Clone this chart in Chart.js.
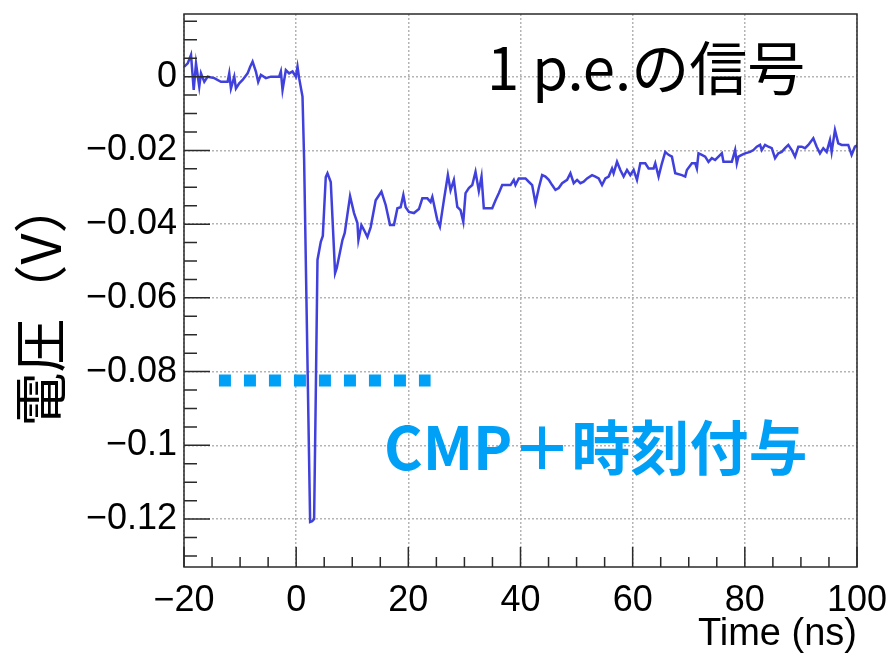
<!DOCTYPE html>
<html>
<head>
<meta charset="utf-8">
<script src="https://cdn.jsdelivr.net/npm/chart.js@4.4.0/dist/chart.umd.min.js"></script>
<style>
  html, body { margin: 0; padding: 0; background: #ffffff; }
  #wrap { width: 888px; height: 661px; }
</style>
</head>
<body>
<div id="wrap"><canvas id="c" width="888" height="661"></canvas></div>
<script>
// Waveform of a single photo-electron pulse (time in ns, voltage in V)
const timeNs = [
  -19.95, -19.34, -18.75, -18.27, -17.86, -17.28, -16.97, -16.38, -15.78, -14.6,
  -13.41, -12.22, -11.93, -11.63, -11.04, -10.74, -10.15, -9.55, -8.66, -8.2,
  -7.77, -7.18, -6.77, -6.29, -5.4, -4.51, -3.03, -2.73, -2.43, -1.84,
  -1.25, -0.65, -0.06, 0.24, 0.53, 1.13, 1.42, 2.49, 2.85, 3.2,
  3.5, 3.8, 4.39, 4.75, 5.28, 5.58, 6.17, 6.94, 7.24, 8.25,
  8.66, 9.61, 10.32, 10.92, 11.1, 11.64, 12.1, 12.7, 13.29, 14.18,
  15.2, 15.96, 16.73, 17.44, 18.05, 18.63, 19.11, 19.52, 20.11, 21.0,
  21.89, 22.5, 23.39, 23.97, 24.28, 25.17, 25.63, 26.34, 27.05, 27.53,
  28.12, 28.73, 29.31, 29.8, 30.2, 30.79, 31.4, 31.98, 32.57, 33.05,
  33.46, 34.96, 35.55, 36.13, 36.74, 38.22, 38.8, 39.1, 39.69, 40.89,
  41.47, 42.08, 42.67, 43.26, 43.86, 44.45, 45.04, 45.64, 46.23, 46.82,
  47.42, 48.31, 48.9, 49.49, 50.09, 50.68, 51.27, 51.87, 52.76, 53.35,
  53.94, 54.54, 55.13, 55.72, 56.32, 56.6, 57.21, 57.8, 58.39, 58.99,
  59.58, 60.17, 60.77, 61.36, 62.25, 62.84, 63.73, 64.03, 64.62, 65.22,
  65.81, 66.4, 67.0, 67.59, 68.78, 69.37, 69.67, 70.56, 71.15, 71.45,
  71.74, 72.34, 72.93, 73.52, 74.12, 74.71, 75.3, 75.9, 76.19, 76.79,
  77.68, 78.27, 78.57, 78.86, 79.46, 80.05, 80.94, 81.53, 82.13, 82.72,
  83.02, 83.61, 84.2, 84.8, 85.39, 85.98, 86.58, 87.17, 87.76, 88.36,
  88.95, 89.54, 90.14, 90.73, 91.32, 92.21, 92.81, 93.4, 93.99, 94.59,
  95.18, 95.48, 96.07, 96.66, 97.27, 98.44, 99.04, 99.63, 100.2
];
const voltV = [
  0.0027, 0.0036, 0.0059, -0.0036, 0.0036, -0.0027, 0.0009, -0.0014, 0, -0.0004,
  -0.0014, -0.0014, 0.0009, -0.0032, 0, -0.0032, -0.0018, -0.0009, 0.0009, 0.0027,
  0.0041, 0.0014, -0.0014, 0.0005, -0.0004, 0, 0, 0.0014, -0.0036, 0.0018,
  0.0009, 0.0014, 0, 0.0027, -0.0004, -0.0054, -0.0226, -0.1208, -0.1206, -0.12,
  -0.0858, -0.0497, -0.0448, -0.0432, -0.0272, -0.0262, -0.0286, -0.0533, -0.0519, -0.0443,
  -0.0424, -0.0324, -0.037, -0.0397, -0.0443, -0.0403, -0.0416, -0.0435, -0.0408, -0.0335,
  -0.0312, -0.0348, -0.0402, -0.0402, -0.0357, -0.0354, -0.0321, -0.0354, -0.0367, -0.037,
  -0.0359, -0.033, -0.033, -0.034, -0.0326, -0.0389, -0.0407, -0.0335, -0.0267, -0.0308,
  -0.028, -0.0353, -0.0362, -0.0394, -0.0316, -0.0302, -0.0294, -0.0258, -0.031, -0.0271,
  -0.0357, -0.0357, -0.0335, -0.0316, -0.0294, -0.0294, -0.028, -0.0294, -0.0276, -0.0276,
  -0.0285, -0.0294, -0.0343, -0.0302, -0.0267, -0.0271, -0.028, -0.0294, -0.0307, -0.0302,
  -0.0289, -0.028, -0.0262, -0.0289, -0.028, -0.0289, -0.0285, -0.0276, -0.0267, -0.0271,
  -0.0276, -0.0294, -0.0276, -0.0271, -0.0249, -0.0262, -0.0231, -0.0253, -0.0271, -0.0253,
  -0.0267, -0.0253, -0.028, -0.0235, -0.0235, -0.0249, -0.0249, -0.0235, -0.0271, -0.0235,
  -0.0204, -0.0212, -0.0217, -0.0262, -0.0267, -0.0271, -0.0253, -0.0235, -0.0235, -0.0249,
  -0.0208, -0.0212, -0.0217, -0.0231, -0.0221, -0.0226, -0.0217, -0.0208, -0.0231, -0.0231,
  -0.0231, -0.0199, -0.0235, -0.0217, -0.0212, -0.0208, -0.0204, -0.0199, -0.019, -0.0185,
  -0.0199, -0.0185, -0.019, -0.0194, -0.0221, -0.0208, -0.0204, -0.0194, -0.0185, -0.0199,
  -0.0217, -0.019, -0.019, -0.0194, -0.0185, -0.0167, -0.019, -0.0208, -0.0194, -0.0204,
  -0.0172, -0.0204, -0.0145, -0.0181, -0.0185, -0.0185, -0.0212, -0.019, -0.0185
];

// Discriminator level marked across the pulse
const thresholdTime = [-13.77, 23.97];
const thresholdVolt = [-0.0824, -0.0824];

// Axis ranges and labelled ticks
const xRange = [-20, 100];
const yRange = [-0.133, 0.017];
const xTicks = [-20, 0, 20, 40, 60, 80, 100];
const yTicks = [0, -0.02, -0.04, -0.06, -0.08, -0.1, -0.12];

const titleText = '1 p.e.の信号';
const noteText = 'CMP＋時刻付与';
const yTitle = '電圧（V）';
const xTitle = 'Time (ns)';

const MINUS = '\u2212';
function fmt(v) {
  if (Math.abs(v) < 1e-9) return '0';
  const s = String(parseFloat(Math.abs(v).toFixed(4)));
  return (v < 0 ? MINUS : '') + s;
}

const tickFont = { family: '"Liberation Sans", Arial, sans-serif', size: 36 };
const GRID = '#b4b4b4';
const AXIS = '#2a2a2a';

// Inward major/minor ticks, frame, and text labels
const decorations = {
  id: 'decorations',
  afterDraw(chart) {
    const { ctx, chartArea: a, scales: { x, y } } = chart;
    ctx.save();
    ctx.strokeStyle = AXIS;
    ctx.lineWidth = 1.5;
    // frame
    ctx.strokeRect(a.left, a.top, a.right - a.left, a.bottom - a.top);
    // y ticks
    ctx.beginPath();
    for (let k = -26; k <= 3; k++) {
      const v = k * 0.005;
      const py = y.getPixelForValue(v);
      if (py < a.top || py > a.bottom) continue;
      const len = (k % 4 === 0) ? 26 : 13;
      ctx.moveTo(a.left, py);
      ctx.lineTo(a.left + len, py);
    }
    // x ticks
    for (let t = xRange[0]; t <= xRange[1]; t += 5) {
      const px = x.getPixelForValue(t);
      const len = (t % 20 === 0) ? 20 : 10;
      ctx.moveTo(px, a.bottom);
      ctx.lineTo(px, a.bottom - len);
    }
    ctx.stroke();

    // texts
    ctx.fillStyle = '#000000';
    ctx.textAlign = 'left';
    ctx.textBaseline = 'alphabetic';
    ctx.font = '58px "Noto Sans CJK JP"';
    ctx.fillText(titleText, 487, 90);

    ctx.fillStyle = '#00a0f6';
    ctx.font = 'bold 59px "Noto Sans CJK JP"';
    ctx.fillText(noteText, 384, 470);

    ctx.fillStyle = '#000000';
    ctx.font = '38px "Liberation Sans", Arial, sans-serif';
    ctx.textAlign = 'right';
    ctx.fillText(xTitle, a.right, 645);

    ctx.save();
    ctx.translate(40, 303);
    ctx.rotate(-Math.PI / 2);
    ctx.textAlign = 'center';
    ctx.textBaseline = 'middle';
    ctx.font = '54px "Noto Sans CJK JP"';
    ctx.fillText(yTitle, 0, 0);
    ctx.restore();

    ctx.restore();
  }
};

new Chart(document.getElementById('c'), {
  type: 'line',
  data: {
    datasets: [
      {
        label: 'threshold',
        data: thresholdTime.map((t, i) => ({ x: t, y: thresholdVolt[i] })),
        borderColor: '#00a0f6',
        borderWidth: 12,
        borderDash: [12, 13],
        borderCapStyle: 'butt',
        pointRadius: 0,
        order: 0
      },
      {
        label: 'waveform',
        data: timeNs.map((t, i) => ({ x: t, y: voltV[i] })),
        borderColor: '#4040dc',
        borderWidth: 2.5,
        pointRadius: 0,
        tension: 0,
        order: 1
      }
    ]
  },
  options: {
    responsive: false,
    animation: false,
    devicePixelRatio: 1,
    layout: { padding: { top: 14, right: 31, bottom: 0, left: 0 } },
    plugins: { legend: { display: false }, tooltip: { enabled: false } },
    scales: {
      x: {
        type: 'linear',
        min: xRange[0],
        max: xRange[1],
        afterFit(s) { s.height = 94; s.paddingLeft = 0; s.paddingRight = 0; },
        afterBuildTicks(s) { s.ticks = xTicks.map(v => ({ value: v })); },
        grid: { color: GRID, lineWidth: 1.5, drawTicks: false },
        border: { display: false, dash: [2, 2] },
        ticks: {
          font: tickFont, color: '#000', padding: 12, maxRotation: 0,
          callback: v => fmt(v)
        }
      },
      y: {
        type: 'linear',
        min: yRange[0],
        max: yRange[1],
        afterFit(s) { s.width = 184; s.paddingTop = 0; s.paddingBottom = 0; },
        afterBuildTicks(s) { s.ticks = yTicks.map(v => ({ value: v })); },
        grid: { color: GRID, lineWidth: 1.5, drawTicks: false },
        border: { display: false, dash: [2, 2] },
        ticks: {
          font: tickFont, color: '#000', padding: 7,
          callback: v => fmt(v)
        }
      }
    }
  },
  plugins: [decorations]
});
</script>
</body>
</html>
